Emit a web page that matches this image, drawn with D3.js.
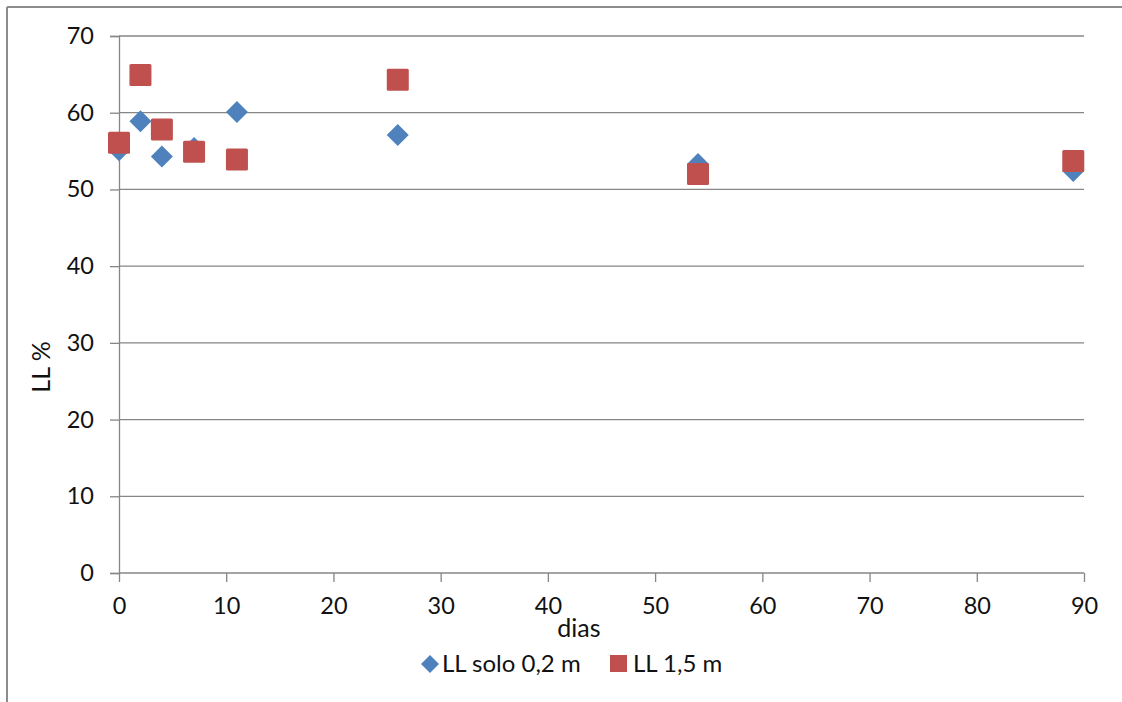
<!DOCTYPE html>
<html>
<head>
<meta charset="utf-8">
<script src="https://cdn.jsdelivr.net/npm/d3@7"></script>
<style>
  html, body { margin: 0; padding: 0; background: #fff; }
  svg { display: block; font-family: Lato, "Open Sans", sans-serif; }
</style>
</head>
<body>
<svg id="chart" width="1122" height="702"></svg>
<script>
// Dias de medição
const dias = [0, 2, 4, 7, 11, 26, 54, 89];
// Limite de liquidez (%) por profundidade
const llSolo02 = [55.1, 58.9, 54.3, 55.4, 60.1, 57.1, 53.3, 52.4];
const ll15 = [56.1, 64.9, 57.8, 54.9, 53.9, 64.3, 52.0, 53.7];
const seriesNames = ["LL solo 0,2 m", "LL 1,5 m"];
const seriesColors = ["#4F81BD", "#C0504D"];
const xTicks = [0, 10, 20, 30, 40, 50, 60, 70, 80, 90];
const yTicks = [0, 10, 20, 30, 40, 50, 60, 70];

const svg = d3.select("#chart");
const margin = { left: 119, right: 1084, top: 36, bottom: 573 };

const x = d3.scaleLinear().domain([0, 90]).range([margin.left, margin.right]);
const y = d3.scaleLinear().domain([0, 70]).range([margin.bottom, margin.top]);

const gridColor = "#868686";
const fontSize = 23.5;

// outer frame (top and left edges visible)
svg.append("line").attr("x1", 7).attr("x2", 1122).attr("y1", 7).attr("y2", 7)
  .attr("stroke", "#8c8c8c").attr("stroke-width", 2);
svg.append("line").attr("x1", 7).attr("x2", 7).attr("y1", 7).attr("y2", 702)
  .attr("stroke", "#8c8c8c").attr("stroke-width", 2);

// horizontal gridlines + y axis
const yAxis = d3.axisLeft(y).tickValues(yTicks).tickSize(9).tickPadding(16).tickFormat(d3.format("d"));
const gy = svg.append("g").attr("transform", `translate(${margin.left},0)`).call(yAxis);
gy.select(".domain").attr("stroke", gridColor).attr("stroke-width", 1.3);
gy.selectAll(".tick line").attr("stroke", gridColor).attr("stroke-width", 1.3);
gy.selectAll(".tick text").attr("font-size", fontSize).attr("fill", "#111")
  .attr("font-family", "Lato, sans-serif");

svg.append("g").selectAll("line").data(yTicks).join("line")
  .attr("x1", margin.left).attr("x2", margin.right)
  .attr("y1", d => y(d)).attr("y2", d => y(d))
  .attr("stroke", gridColor).attr("stroke-width", 1.3);

// x axis
const xAxis = d3.axisBottom(x).tickValues(xTicks).tickSize(9).tickPadding(15).tickFormat(d3.format("d"));
const gx = svg.append("g").attr("transform", `translate(0,${margin.bottom})`).call(xAxis);
gx.select(".domain").remove();
gx.selectAll(".tick line").attr("stroke", gridColor).attr("stroke-width", 1.3);
gx.selectAll(".tick text").attr("font-size", fontSize).attr("fill", "#111")
  .attr("font-family", "Lato, sans-serif");

// axis titles
svg.append("text").attr("x", 579).attr("y", 637).attr("text-anchor", "middle")
  .attr("font-size", 25).attr("fill", "#111").text("dias");
svg.append("text").attr("transform", "translate(50,367) rotate(-90)")
  .attr("text-anchor", "middle").attr("font-size", 25).attr("fill", "#111").text("LL %");

// markers
const diamond = s => `M0,${-s}L${s},0L0,${s}L${-s},0Z`;
const pts1 = dias.map((d, i) => ({ x: d, y: llSolo02[i] }));
const pts2 = dias.map((d, i) => ({ x: d, y: ll15[i] }));

svg.append("g").selectAll("path").data(pts1).join("path")
  .attr("d", diamond(11))
  .attr("transform", d => `translate(${x(d.x)},${y(d.y)})`)
  .attr("fill", seriesColors[0]);

const sq = 22;
svg.append("g").selectAll("rect").data(pts2).join("rect")
  .attr("x", d => x(d.x) - sq / 2).attr("y", d => y(d.y) - sq / 2)
  .attr("width", sq).attr("height", sq).attr("rx", 1.5)
  .attr("fill", seriesColors[1]);

// legend
const lg = svg.append("g");
lg.append("path").attr("d", diamond(9)).attr("transform", "translate(430,664)")
  .attr("fill", seriesColors[0]);
lg.append("text").attr("x", 442).attr("y", 672).attr("font-size", 24).attr("fill", "#111").text(seriesNames[0]);
lg.append("rect").attr("x", 610).attr("y", 655).attr("width", 17).attr("height", 17)
  .attr("fill", seriesColors[1]);
lg.append("text").attr("x", 633).attr("y", 672).attr("font-size", 24).attr("fill", "#111").text(seriesNames[1]);
</script>
</body>
</html>
